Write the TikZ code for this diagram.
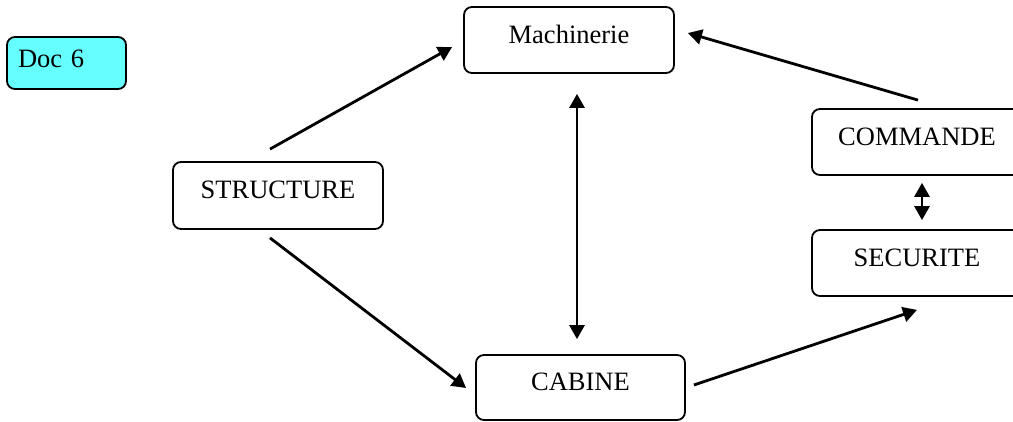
\documentclass[tikz,border=0pt]{standalone}
\usepackage{fontspec}
\setmainfont{Liberation Serif}
\usetikzlibrary{arrows.meta}
\definecolor{doccyan}{HTML}{66FFFF}
\begin{document}
\begin{tikzpicture}[x=1pt,y=-1pt,
  box/.style={draw=black, line width=1.8pt, rounded corners=8pt,
    minimum width=210pt, minimum height=66pt, inner sep=0pt,
    font=\fontsize{26.5}{30}\selectfont, text height=18pt, text depth=12pt},
  docbox/.style={box, fill=doccyan, minimum width=119pt, minimum height=52pt,
    text width=97pt, align=left, text height=18pt, text depth=9pt},
  conn/.style={line width=2.8pt, -{Triangle[length=14pt,width=15pt]}},
  dconn/.style={line width=2.8pt, {Triangle[length=14pt,width=15pt]}-{Triangle[length=14pt,width=15pt]}}
]
\useasboundingbox (0,0) rectangle (1013,421);
\node[docbox] (doc) at (66.5,63) {Doc 6};
\node[box] (mach) at (569,40) {Machinerie};
\node[box, minimum height=67pt] (struct) at (278,195.5) {STRUCTURE};
\node[box] (cmd) at (917,142) {COMMANDE};
\node[box] (secu) at (917,263) {SECURITE};
\node[box, minimum width=209pt, minimum height=65pt] (cab) at (580.5,387.5) {CABINE};

\draw[conn] ([shift={(-8,-12)}]struct.north) -- ([shift={(-11,7)}]mach.west);
\draw[conn] ([shift={(-8,8)}]struct.south) -- ([shift={(-9,0.5)}]cab.west);
\draw[dconn] ([shift={(8,20)}]mach.south) -- ([shift={(-3.5,-15)}]cab.north);
\draw[conn] ([shift={(1,-8)}]cmd.north) -- ([shift={(13,-7)}]mach.east);
\draw[dconn] ([shift={(5,7)}]cmd.south) -- ([shift={(5,-9)}]secu.north);
\draw[conn] ([shift={(8,-2.5)}]cab.east) -- ([shift={(0,13)}]secu.south);
\end{tikzpicture}
\end{document}
